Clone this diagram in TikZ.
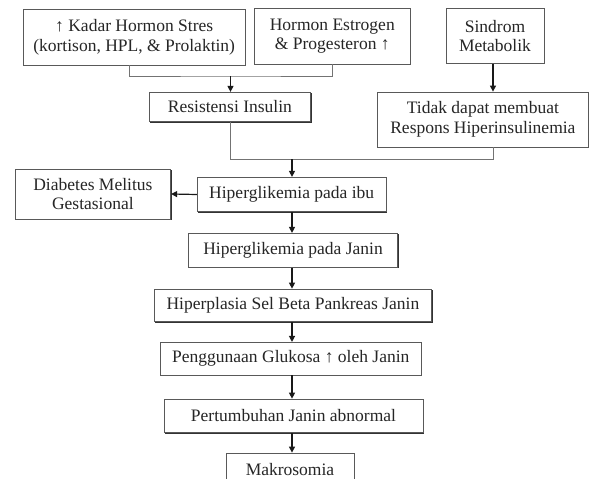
\documentclass[tikz,border=0pt]{standalone}
\usepackage{fontspec}
\setmainfont{Liberation Serif}
\usetikzlibrary{arrows.meta,shadows,calc}
\begin{document}
\begin{tikzpicture}[x=1pt,y=-1pt,
  bx/.style={draw=black!65, line width=0.8pt, fill=white, inner sep=0pt,
    align=center, text=black!85,
    font=\fontsize{17.5}{19.5}\selectfont,
    drop shadow={shadow xshift=0.9pt, shadow yshift=-0.9pt, fill=black!80, opacity=1}},
  ln/.style={draw=black!55, line width=0.8pt},
  arr/.style={draw=black!90, line width=1.2pt, -{Triangle[length=6pt,width=6pt]}}]
\useasboundingbox (0,0) rectangle (590,479);
\clip (0,0) rectangle (590,479);
\fill[white] (0,0) rectangle (590,479);
% nodes
\node[bx, minimum width=221.7, minimum height=55.7] (k1) at (134.2,37.2) {↑ Kadar Hormon Stres\\(kortison, HPL, \& Prolaktin)};
\node[bx, minimum width=156, minimum height=55.7] (k2) at (332.3,36.2) {Hormon Estrogen\\\& Progesteron ↑};
\node[bx, minimum width=98, minimum height=55] (k3) at (495,35.8) {Sindrom\\Metabolik};
\node[bx, minimum width=161.7, minimum height=29.4] (res) at (229.9,107) {Resistensi Insulin};
\node[bx, minimum width=211.2, minimum height=55] (tdk) at (482.9,119.5) {Tidak dapat membuat\\Respons Hiperinsulinemia};
\node[bx, minimum width=188.7, minimum height=34.4] (ibu) at (291.7,194.5) {Hiperglikemia pada ibu};
\node[bx, minimum width=155.7, minimum height=50] (dm) at (92.9,194) {Diabetes Melitus\\Gestasional};
\node[bx, minimum width=209.5, minimum height=34] (jan) at (293,250.3) {Hiperglikemia pada Janin};
\node[bx, minimum width=277.7, minimum height=32.7] (hpl) at (292.9,305.4) {Hiperplasia Sel Beta Pankreas Janin};
\node[bx, minimum width=261.5, minimum height=32.7] (pgg) at (290.8,358.7) {Penggunaan Glukosa ↑ oleh Janin};
\node[bx, minimum width=259, minimum height=33.7] (ptb) at (293.5,415.9) {Pertumbuhan Janin abnormal};
\node[bx, minimum width=128, minimum height=33] (mak) at (290,469.5) {Makrosomia};
% junction coordinates
\coordinate (j1) at (230.5,76);
\coordinate (j2) at (292,159.3);
% connectors
\draw[ln] ([xshift=-5.2]k1.south) |- (j1) -| (k2.south);
\draw[arr] (j1) -- (j1 |- res.north);
\draw[arr] ([xshift=-2]k3.south) -- ([xshift=-2]k3.south |- tdk.north);
\draw[ln] (res.south) |- (j2) -| ([xshift=10]tdk.south);
\draw[arr] (j2) -- (j2 |- ibu.north);
\draw[arr] (ibu.west) -- (dm.east);
\draw[arr] (ibu.south -| j2) -- (j2 |- jan.north);
\draw[arr] (jan.south -| j2) -- (j2 |- hpl.north);
\draw[arr] (hpl.south -| j2) -- (j2 |- pgg.north);
\draw[arr] (pgg.south -| j2) -- (j2 |- ptb.north);
\draw[arr] (ptb.south -| j2) -- (j2 |- mak.north);
\end{tikzpicture}
\end{document}
